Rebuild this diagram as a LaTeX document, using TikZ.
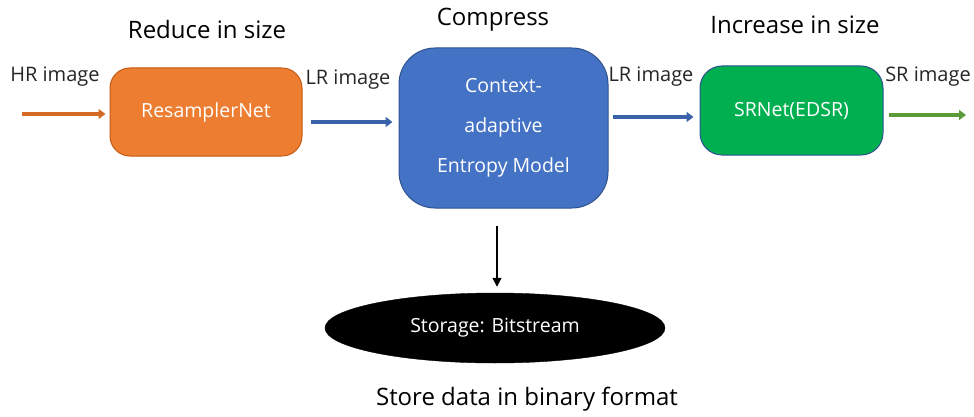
\documentclass[tikz,border=0pt]{standalone}
\usepackage{fontspec}
\setmainfont{Open Sans}
\usetikzlibrary{arrows.meta,shapes.geometric}
\definecolor{boxorange}{HTML}{ED7D31}
\definecolor{borange}{HTML}{C55A11}
\definecolor{boxblue}{HTML}{4472C4}
\definecolor{bblue}{HTML}{2F528F}
\definecolor{boxgreen}{HTML}{00B050}
\definecolor{agreen}{HTML}{5B9B3A}
\definecolor{ablue}{HTML}{3A62A8}
\definecolor{aorange}{HTML}{D46A25}
\tikzset{
  procbox/.style={draw=bblue, line width=1pt, text=white, align=center, font=\fontsize{19.5}{40}\selectfont, inner sep=0pt},
  flowarrow/.style={line width=3.2pt, -{Triangle[length=7pt,width=10pt]}},
  heading/.style={font=\fontsize{24}{28}\selectfont, text=black},
  lbl/.style={font=\fontsize{20}{24}\selectfont, text=black!85},
}
\begin{document}
\begin{tikzpicture}[x=1pt,y=-1pt]
\useasboundingbox (0,0) rectangle (974,417);
% boxes
\node[procbox, draw=borange, fill=boxorange, rounded corners=20pt, minimum width=192pt, minimum height=88pt] (res) at (206,112) {ResamplerNet};
\node[procbox, fill=boxblue, rounded corners=36pt, minimum width=209pt, minimum height=160pt] (ctx) at (503.5,128) {Context-\\adaptive\\Entropy Model};
\node[procbox, fill=boxgreen, rounded corners=22pt, minimum width=183pt, minimum height=89pt] (sr) at (791.5,110.5) {SRNet(EDSR)};
\node[ellipse, fill=black, draw=black, minimum width=340pt, minimum height=70pt, text=white, font=\fontsize{19.5}{24}\selectfont, inner sep=0pt] (store) at (495,328) {Storage: Bitstream};
% headings
\node[heading] (h1) at (207,30) {Reduce in size};
\node[heading] (h2) at (493,20) {Compress};
\node[heading] (h3) at (795,25) {Increase in size};
\node[heading] (h4) at (527,399) {Store data in binary format};
% labels
\node[lbl] (l1) at (55,77) {HR image};
\node[lbl] (l2) at (348,80) {LR image};
\node[lbl] (l3) at (651,77) {LR image};
\node[lbl] (l4) at (928,77) {SR image};
% free ends
\coordinate (hrin) at (22,114);
\coordinate (srout) at (966,115);
% arrows
\draw[flowarrow, aorange] (hrin) -- (hrin -| res.west) [shorten >=4pt];
\draw[flowarrow, ablue, shorten <=8pt, shorten >=6pt] (res.east |- 0,122) coordinate (a2s) -- (ctx.west |- a2s);
\draw[flowarrow, ablue, shorten <=4pt, shorten >=6pt] (ctx.east |- 0,117) coordinate (a3s) -- (sr.west |- a3s);
\draw[flowarrow, agreen, shorten <=5pt] (sr.east |- srout) -- (srout);
\draw[line width=1.6pt, -{Triangle[length=9pt,width=9pt]}, shorten <=17pt, shorten >=6pt] (ctx.south -| 497,0) -- (store.north -| 497,0);
\end{tikzpicture}
\end{document}
